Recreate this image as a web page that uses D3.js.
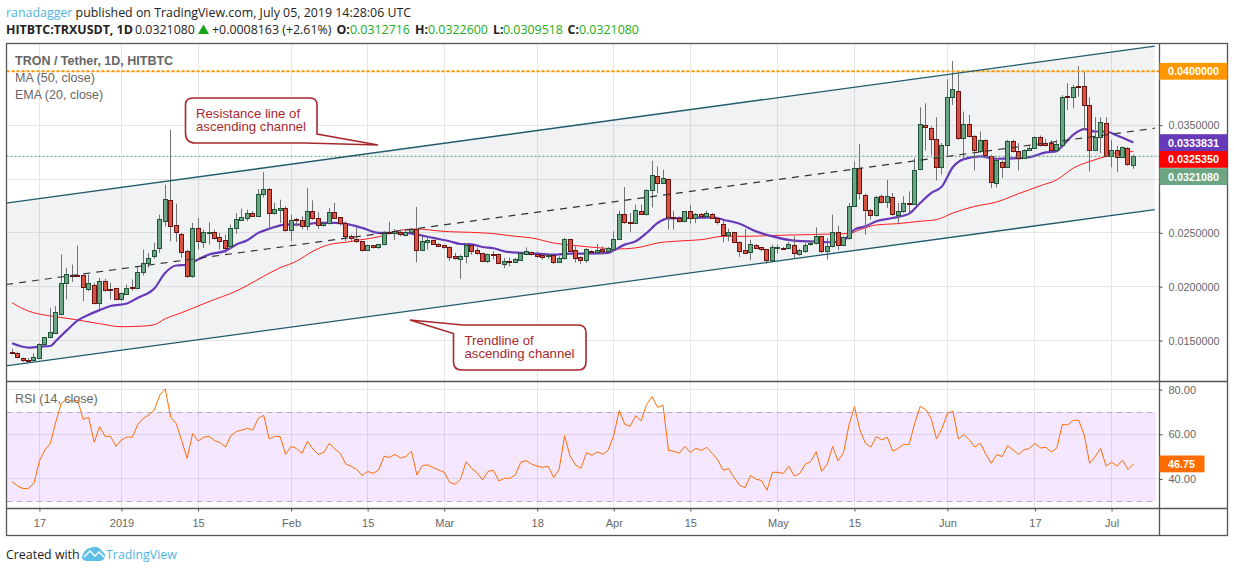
<!DOCTYPE html>
<html>
<head>
<meta charset="utf-8">
<script src="https://cdn.jsdelivr.net/npm/d3@7"></script>
<style>
  html, body { margin: 0; padding: 0; background: #fff; overflow: hidden; }
  svg { display: block; }
  text { font-family: "Liberation Sans", Arial, sans-serif; }
  .head { font-family: "Open Sans", sans-serif; font-size: 12.4px; fill: #222; }
</style>
</head>
<body>
<svg id="chart" width="1234" height="572"></svg>
<script>
const firstDay = Date.UTC(2018, 11, 12);

const opens = [0.01388,0.01376,0.01333,0.01317,0.01311,0.0133,0.01462,0.01527,0.0157,0.01746,
  0.02027,0.02108,0.02108,0.02101,0.01972,0.02015,0.01842,0.02046,0.01975,0.01981,
  0.01879,0.01932,0.0199,0.01981,0.02129,0.02213,0.02283,0.02352,0.02608,0.02796,
  0.02568,0.02481,0.02324,0.02092,0.02537,0.02413,0.02497,0.025,0.02453,0.02426,
  0.0237,0.02543,0.02617,0.02636,0.02676,0.02654,0.02852,0.02907,0.02676,0.0271,
  0.02722,0.02518,0.0262,0.02611,0.02555,0.02703,0.02629,0.02568,0.02583,0.02691,
  0.02639,0.02583,0.02469,0.02441,0.02416,0.02339,0.02379,0.02367,0.02389,0.025,
  0.0249,0.02506,0.02477,0.02499,0.0253,0.02339,0.02413,0.02425,0.02394,0.02379,
  0.0236,0.02277,0.02255,0.02283,0.02382,0.02332,0.02305,0.02237,0.02295,0.02295,
  0.02209,0.02234,0.02227,0.02246,0.02301,0.02314,0.02298,0.02286,0.0228,0.02289,
  0.02227,0.02258,0.02434,0.02332,0.02267,0.02246,0.02329,0.02314,0.02342,0.02326,
  0.02348,0.02443,0.02675,0.02601,0.02589,0.02703,0.02672,0.02894,0.03027,0.02959,
  0.03,0.02647,0.02638,0.02607,0.02694,0.02629,0.02675,0.02653,0.02675,0.02638,
  0.02582,0.02477,0.02499,0.02413,0.02332,0.02314,0.02385,0.0236,0.02342,0.02246,
  0.02351,0.02357,0.02351,0.02385,0.02301,0.0233,0.02388,0.02398,0.02462,0.0233,
  0.0237,0.025,0.02385,0.02447,0.02746,0.03101,0.02851,0.02712,0.02657,0.02842,
  0.02784,0.02833,0.02657,0.027,0.02771,0.02765,0.03086,0.035,0.03472,0.0337,
  0.03111,0.03314,0.03759,0.03815,0.03379,0.03509,0.03395,0.03253,0.03361,0.03206,
  0.02963,0.03157,0.03108,0.03352,0.03256,0.03194,0.03268,0.03287,0.03389,0.0333,
  0.0333,0.03268,0.03314,0.03765,0.03759,0.03861,0.03858,0.03685,0.03268,0.03389,
  0.03518,0.0321,0.03268,0.03203,0.03287,0.0312716];

const highs = [0.01425,0.01398,0.01342,0.01339,0.01382,0.01475,0.01533,0.01805,0.01821,0.02299,
  0.02176,0.02206,0.02382,0.02114,0.02114,0.02037,0.02083,0.02074,0.02037,0.0199,
  0.0195,0.02021,0.02067,0.02185,0.02345,0.02314,0.02407,0.02669,0.02947,0.03457,
  0.02771,0.025,0.02345,0.02592,0.02639,0.02531,0.02598,0.02531,0.025,0.02484,
  0.02577,0.02685,0.02725,0.02716,0.027,0.02907,0.03065,0.02916,0.02778,0.02808,
  0.02747,0.02669,0.02639,0.02654,0.02916,0.02802,0.02691,0.02592,0.02731,0.02778,
  0.02648,0.02608,0.02484,0.02546,0.02423,0.02389,0.02385,0.02398,0.02515,0.02602,
  0.02537,0.02531,0.02524,0.02542,0.0274,0.02462,0.02462,0.02437,0.02406,0.02391,
  0.02376,0.02314,0.02298,0.02406,0.02406,0.02366,0.02314,0.02308,0.02329,0.02308,
  0.02268,0.02271,0.02268,0.02314,0.02366,0.02326,0.02326,0.02298,0.02308,0.02301,
  0.02283,0.02453,0.02447,0.02376,0.02283,0.02357,0.02339,0.02397,0.02376,0.02369,
  0.02514,0.02706,0.02925,0.02684,0.02761,0.02761,0.02906,0.03169,0.03116,0.03086,
  0.03005,0.02706,0.02653,0.02703,0.02761,0.02684,0.02684,0.02706,0.02684,0.02647,
  0.02616,0.02539,0.02505,0.02422,0.02536,0.02437,0.02394,0.02369,0.02351,0.02391,
  0.02391,0.02369,0.02416,0.02468,0.02351,0.02407,0.02419,0.02552,0.02469,0.02453,
  0.02669,0.02567,0.02469,0.02777,0.03163,0.03327,0.02864,0.02722,0.02845,0.02855,
  0.02993,0.0287,0.02777,0.02839,0.02885,0.03194,0.03666,0.03703,0.03487,0.03574,
  0.03333,0.03926,0.04096,0.03981,0.03626,0.03595,0.0341,0.03441,0.0337,0.03225,
  0.03194,0.03172,0.03364,0.03364,0.03333,0.03277,0.03302,0.03395,0.03404,0.03373,
  0.03358,0.03364,0.03778,0.03889,0.03873,0.04049,0.03997,0.03759,0.03574,0.03574,
  0.03574,0.03364,0.03308,0.03302,0.03296,0.03226];

const lows = [0.01373,0.01336,0.01302,0.01308,0.01308,0.01327,0.01456,0.01521,0.0157,0.01734,
  0.01882,0.02043,0.02092,0.01867,0.01959,0.01836,0.0179,0.01956,0.01882,0.01873,
  0.01867,0.01925,0.01963,0.01975,0.02105,0.02176,0.02259,0.02315,0.02561,0.02423,
  0.02416,0.02268,0.02083,0.02083,0.02345,0.02361,0.02392,0.02438,0.02345,0.02314,
  0.02352,0.0249,0.02608,0.02608,0.02648,0.02654,0.0283,0.02531,0.02669,0.02592,
  0.02512,0.02423,0.02561,0.02531,0.02524,0.02623,0.02537,0.02555,0.02577,0.02629,
  0.02568,0.02423,0.02423,0.02407,0.02327,0.02336,0.02355,0.02352,0.02385,0.02484,
  0.02432,0.02469,0.02468,0.02493,0.02227,0.02332,0.02345,0.02388,0.02369,0.02354,
  0.02237,0.02252,0.02073,0.02218,0.02298,0.02298,0.0223,0.02221,0.02252,0.02212,
  0.02172,0.0219,0.02221,0.0224,0.02295,0.02289,0.02268,0.02252,0.02258,0.02209,
  0.02221,0.02252,0.02323,0.02224,0.02209,0.02221,0.02311,0.02308,0.02298,0.0232,
  0.02326,0.02437,0.02585,0.02505,0.02582,0.02666,0.0266,0.02737,0.02869,0.02953,
  0.0253,0.0253,0.02598,0.02598,0.02585,0.02592,0.02647,0.02647,0.02629,0.02576,
  0.02413,0.02422,0.02406,0.02277,0.02305,0.02246,0.02351,0.02329,0.02212,0.02227,
  0.02308,0.02345,0.02345,0.02268,0.02289,0.02314,0.02382,0.02392,0.02314,0.02253,
  0.02364,0.02339,0.02376,0.02438,0.0274,0.02808,0.02484,0.02623,0.02651,0.02777,
  0.02731,0.0266,0.02586,0.02685,0.02685,0.02759,0.0308,0.03265,0.03225,0.02987,
  0.0304,0.0321,0.03688,0.03364,0.03179,0.03389,0.0308,0.0324,0.03203,0.02916,
  0.02922,0.03009,0.03102,0.03247,0.0308,0.03185,0.03262,0.03277,0.03302,0.03302,
  0.03256,0.03256,0.03308,0.03642,0.03657,0.03765,0.03456,0.03071,0.03262,0.0324,
  0.03203,0.03108,0.03064,0.03194,0.03123,0.0309518];

const closes = [0.01379,0.01342,0.01314,0.01314,0.01342,0.01462,0.01527,0.01574,0.01759,0.02027,
  0.02111,0.02101,0.02098,0.0199,0.02027,0.01842,0.02046,0.01963,0.01969,0.01879,
  0.01941,0.01981,0.01981,0.02129,0.02213,0.02259,0.02333,0.0262,0.02808,0.02561,
  0.02506,0.02321,0.02098,0.02537,0.02416,0.025,0.02503,0.0245,0.02423,0.02358,
  0.02537,0.0262,0.02639,0.02679,0.02654,0.02852,0.02907,0.02676,0.02716,0.02722,
  0.02518,0.02617,0.02611,0.02555,0.02703,0.02629,0.02568,0.02583,0.02685,0.02636,
  0.02583,0.02469,0.02444,0.02416,0.02339,0.02379,0.02361,0.02389,0.02497,0.0249,
  0.02509,0.02484,0.02502,0.02527,0.02339,0.02416,0.02425,0.02394,0.02376,0.0236,
  0.02274,0.02258,0.0228,0.02379,0.02329,0.02305,0.02237,0.02295,0.02289,0.02218,
  0.0223,0.02224,0.02249,0.02305,0.02323,0.02295,0.02283,0.02274,0.02289,0.02227,
  0.02258,0.02434,0.02329,0.02264,0.02246,0.02342,0.02317,0.02339,0.02329,0.02351,
  0.02443,0.02675,0.02598,0.02589,0.02712,0.02672,0.02897,0.03036,0.02959,0.03008,
  0.02644,0.02629,0.02607,0.02694,0.02629,0.02675,0.02653,0.02684,0.02638,0.02592,
  0.02477,0.02499,0.02413,0.02329,0.02311,0.02388,0.02357,0.02342,0.02246,0.0236,
  0.0236,0.02351,0.02391,0.02311,0.02332,0.02385,0.02401,0.02462,0.02324,0.0237,
  0.025,0.02385,0.02453,0.02746,0.03101,0.02861,0.02709,0.02657,0.02833,0.02784,
  0.02842,0.02666,0.027,0.02771,0.02765,0.03083,0.03509,0.03481,0.0337,0.03111,
  0.03314,0.03759,0.03827,0.03379,0.03509,0.03395,0.03268,0.03361,0.03219,0.02972,
  0.03169,0.03111,0.03352,0.03256,0.03194,0.03268,0.03287,0.03389,0.03314,0.03314,
  0.03268,0.03324,0.03759,0.03759,0.03852,0.03855,0.03685,0.03268,0.03389,0.03527,
  0.0321,0.03268,0.03203,0.0329,0.03139,0.032108];

// purple line, read every few days
const emaDays = [0,3,5,7,8,10,12,14,16,18,21,23,26,28,30,32,34,36,39,41,43,45,47,50,53,56,59,61,64,67,70,
  72,74,77,80,82,84,86,88,90,93,96,99,102,105,109,110,112,114,116,118,120,124,128,130,133,136,139,143,
  147,150,152,154,156,158,161,164,166,168,170,172,174,177,180,183,186,189,191,192,194,196,198,200,202,205];
const emaValues = [0.01475,0.01435,0.01444,0.0145,0.01496,0.01595,0.01688,0.0174,0.01783,0.01821,0.01845,0.01898,0.01984,0.02129,0.02197,0.02203,0.02253,0.02299,0.02333,0.02392,0.02432,0.025,0.02537,0.02577,0.02577,0.02592,0.02592,0.02583,0.02546,0.025,0.025,
  0.02499,0.02484,0.02453,0.02422,0.02397,0.02394,0.02369,0.02357,0.02329,0.02314,0.02308,0.02298,0.02308,0.02308,0.02314,0.02338,0.02391,0.02422,0.02499,0.02592,0.02635,0.02638,0.02644,0.02622,0.02585,0.02514,0.02468,0.02428,
  0.02419,0.02413,0.02432,0.0253,0.02561,0.02608,0.02638,0.02679,0.02777,0.0287,0.02932,0.03111,0.03185,0.0321,0.03188,0.03191,0.03203,0.03247,0.03259,0.03308,0.0341,0.03463,0.03441,0.03441,0.03404,0.0333831];

// red line
const maDays = [0,3,5,8,12,16,20,24,26,28,31,34,37,40,43,46,49,52,55,58,61,64,67,70,
  74,78,80,84,88,92,95,99,103,107,111,115,118,122,126,130,134,138,143,
  146,150,153,155,158,162,166,169,172,176,180,184,188,191,194,197,200,203,205];
const maValues = [0.01851,0.01774,0.01746,0.01722,0.01691,0.01657,0.01629,0.01635,0.01648,0.01703,0.01759,0.01821,0.01882,0.01938,0.02012,0.02098,0.02176,0.02237,0.0233,0.02392,0.02413,0.02438,0.02463,0.02515,
  0.02536,0.02518,0.02511,0.02505,0.02493,0.02468,0.02453,0.02406,0.02382,0.02363,0.02351,0.02369,0.02406,0.02425,0.02437,0.02468,0.02468,0.02474,0.02481,
  0.02484,0.0249,0.02493,0.0253,0.02574,0.02586,0.02608,0.02623,0.02685,0.02746,0.02787,0.02864,0.02938,0.02993,0.03101,0.03163,0.0321,0.03256,0.032535];

const rsiValues = [38.8,36.9,35.7,35.8,38.1,48.1,53,56,65.7,73.9,
  75.7,74.9,75.2,66.7,67.6,56.4,63.4,59.1,59.1,54.6,
  57.5,58.8,58.8,64.5,67.2,68.7,70.9,77.6,80.4,67.6,
  64.9,57.2,49.3,60.3,57,58.7,59.1,57.2,56.3,54.3,
  59.4,61.3,61.9,62.7,61.9,67.2,68.5,57.9,59.1,59,
  51,54.6,53.7,51.5,56.9,53.4,51,51.9,56,53.4,
  51.5,46.7,45.7,44.2,41.6,43.4,42.5,44,50.1,49.7,
  51,49.4,50.1,52.4,41.8,46,46.3,45.1,44,43,
  38.5,37.6,40,47.8,44.8,42.8,39.6,43.4,43.9,39.1,
  40.3,40.3,41.8,47.5,48.2,46.6,45.7,45.2,45.7,40.7,
  44.2,59.4,50.3,46.3,44.8,51.8,50.6,52.2,51,53,
  59.7,70.7,64.5,63.6,68.4,66,73.4,76.9,72.1,73,
  52.8,52.4,51.6,54.6,51.9,53.7,52.8,54.2,51.5,48.5,
  43.9,44.6,40.6,37.2,36.1,41.6,39.9,39.3,34.9,43,
  43,42.5,45.7,41.3,42.5,46.6,47.8,52.2,43.4,46.6,
  54.6,48.1,51.8,64.2,72.4,61.9,56,54.3,59,57.5,
  58.7,52.5,53.7,55.5,55.5,64.9,72.5,71.2,67.2,57.9,
  62.7,69.4,70.3,57.9,59.9,57.5,54.3,56,51.2,47,
  51,50,54.9,53,51,53.1,53.7,56,53.9,54.2,
  52.1,53.9,64.5,64.2,66.3,66.3,59.7,47,50,53.7,
  45.8,47.5,45.8,48.4,44.3,46.75];

const priceGrid = [0.04, 0.035, 0.03, 0.025, 0.02, 0.015];
// 0.03 and 0.04 labels sit under the value boxes
const priceTicks = [0.035, 0.025, 0.02, 0.015];
const rsiTicks = [80, 60, 40];
const timeTicks = [[2018,11,17,"17"],[2019,0,1,"2019"],[2019,0,15,"15"],[2019,1,1,"Feb"],[2019,1,15,"15"],[2019,2,1,"Mar"],[2019,2,18,"18"],[2019,3,1,"Apr"],[2019,3,15,"15"],[2019,4,1,"May"],[2019,4,15,"15"],[2019,5,1,"Jun"],[2019,5,17,"17"],[2019,6,1,"Jul"]];

// channel drawn on the chart: [day index, price]
const channelTop = [[-1.1, 0.02776], [208.9, 0.04234]];
const channelMid = [[-1.1, 0.02021], [208.9, 0.03472]];
const channelBottom = [[-1.1, 0.01265], [208.9, 0.02716]];

const resistance = 0.04;
const lastClose = closes[closes.length - 1];
const lastEma = emaValues[emaValues.length - 1];
const lastMa = maValues[maValues.length - 1];
const lastRsi = rsiValues[rsiValues.length - 1];

const plotLeft = 6.5, plotRight = 1159.5, plotTop = 43.5, mainBottom = 381.5, rsiBottom = 508.5, frameRight = 1227.5, frameBottom = 535.5;

const dayMs = 86400000;
const dayDate = i => new Date(firstDay + i * dayMs);

const x = d3.scaleUtc()
  .domain([dayDate(0), dayDate(205)])
  .range([12.1, 12.1 + 5.47 * 205]);
const y = d3.scaleLinear().domain([0.04, 0.015]).range([71.3, 340.6]);
const yRsi = d3.scaleLinear().domain([80, 30]).range([389.7, 501.3]);

const svg = d3.select("#chart");
const dayX = i => x(dayDate(i));
const crisp = v => Math.round(v - 0.5) + 0.5;

svg.append("clipPath").attr("id", "mainClip").append("rect")
  .attr("x", plotLeft).attr("y", plotTop).attr("width", plotRight - plotLeft).attr("height", mainBottom - plotTop);

// grid
const grid = svg.append("g").attr("stroke", "#e6e6e6").attr("stroke-width", 1);
const tickDates = timeTicks.map(t => new Date(Date.UTC(t[0], t[1], t[2])));
tickDates.forEach(d => {
  grid.append("line").attr("x1", crisp(x(d))).attr("x2", crisp(x(d))).attr("y1", plotTop).attr("y2", rsiBottom);
});
priceGrid.forEach(p => {
  grid.append("line").attr("x1", plotLeft).attr("x2", plotRight).attr("y1", crisp(y(p))).attr("y2", crisp(y(p)));
});
rsiTicks.forEach(r => {
  grid.append("line").attr("x1", plotLeft).attr("x2", plotRight).attr("y1", crisp(yRsi(r))).attr("y2", crisp(yRsi(r)));
});

// channel fill
const main = svg.append("g").attr("clip-path", "url(#mainClip)");
const chanPoint = d => [dayX(d[0]), y(d[1])];
main.append("path")
  .attr("d", d3.line()([chanPoint(channelTop[0]), chanPoint(channelTop[1]), chanPoint(channelBottom[1]), chanPoint(channelBottom[0])]) + "Z")
  .attr("fill", "rgba(120,130,150,0.105)");

// moving averages
const emaLine = d3.line().x((d, i) => dayX(emaDays[i])).y(d => y(d)).curve(d3.curveMonotoneX);
const maLine = d3.line().x((d, i) => dayX(maDays[i])).y(d => y(d)).curve(d3.curveMonotoneX);
main.append("path").attr("d", maLine(maValues)).attr("fill", "none").attr("stroke", "#ff1a1a").attr("stroke-width", 1);
main.append("path").attr("d", emaLine(emaValues)).attr("fill", "none").attr("stroke", "#673ab7").attr("stroke-width", 2.2);

// candles
const candles = main.append("g");
opens.forEach((o, i) => {
  const c = closes[i];
  const up = c >= o;
  const cx = crisp(dayX(i));
  candles.append("line").attr("x1", cx).attr("x2", cx)
    .attr("y1", y(highs[i])).attr("y2", y(lows[i]))
    .attr("stroke", "#737375").attr("stroke-width", 1);
  const yTop = crisp(y(Math.max(o, c)));
  const yBot = crisp(y(Math.min(o, c)));
  candles.append("rect")
    .attr("x", cx - 2).attr("width", 4)
    .attr("y", yTop).attr("height", Math.max(yBot - yTop, 1))
    .attr("fill", up ? "#6ba583" : "#d75442")
    .attr("stroke", up ? "#225437" : "#6b1313").attr("stroke-width", 1);
});

// horizontal levels
main.append("line").attr("x1", plotLeft).attr("x2", plotRight).attr("y1", y(lastClose)).attr("y2", y(lastClose))
  .attr("stroke", "#4f9a6f").attr("stroke-width", 1).attr("stroke-dasharray", "2 2");
main.append("line").attr("x1", plotLeft).attr("x2", plotRight).attr("y1", y(resistance)).attr("y2", y(resistance))
  .attr("stroke", "#ff9800").attr("stroke-width", 2).attr("stroke-dasharray", "3 2");

// channel lines
[channelTop, channelBottom].forEach(c => {
  main.append("line")
    .attr("x1", dayX(c[0][0])).attr("y1", y(c[0][1]))
    .attr("x2", dayX(c[1][0])).attr("y2", y(c[1][1]))
    .attr("stroke", "#1f5c6b").attr("stroke-width", 1.3);
});
main.append("line")
  .attr("x1", dayX(channelMid[0][0])).attr("y1", y(channelMid[0][1]))
  .attr("x2", dayX(channelMid[1][0])).attr("y2", y(channelMid[1][1]))
  .attr("stroke", "#333").attr("stroke-width", 1.2).attr("stroke-dasharray", "7 6");

// callouts
function callout(path, lines, tx, ty) {
  svg.append("path").attr("d", path).attr("fill", "#fff").attr("stroke", "#a8292d").attr("stroke-width", 1.6);
  lines.forEach((t, i) => {
    svg.append("text").attr("x", tx).attr("y", ty + i * 12.5)
      .attr("font-size", 13.2).attr("fill", "#a8292d").text(t);
  });
}
callout("M193,98 H310 Q317,98 317,105 V134 L378,145 L305,143 H195 Q185.5,143 185.5,133 V105 Q185.5,98 193,98 Z",
  ["Resistance line of", "ascending channel"], 196, 118);
callout("M410,320 L463,325 H578 Q586,325 586,333 V362 Q586,370 578,370 H462 Q453.5,370 453.5,362 V333.5 Z",
  ["Trendline of", "ascending channel"], 464.5, 345);

// rsi pane
svg.append("rect").attr("x", plotLeft)
  .attr("y", yRsi(70)).attr("height", yRsi(30) - yRsi(70))
  .attr("width", 1156 - plotLeft)
  .attr("fill", "rgba(153,21,255,0.1)");
[70, 30].forEach(r => {
  svg.append("line").attr("x1", plotLeft).attr("x2", 1156).attr("y1", crisp(yRsi(r))).attr("y2", crisp(yRsi(r)))
    .attr("stroke", "#b9a9c4").attr("stroke-width", 1).attr("stroke-dasharray", "6 4");
});
const rsiLine = d3.line().x((d, i) => dayX(i)).y(d => yRsi(d));
svg.append("path").attr("d", rsiLine(rsiValues)).attr("fill", "none").attr("stroke", "#ff6d00").attr("stroke-width", 1);

// frame
const frameLines = svg.append("g").attr("stroke", "#555").attr("stroke-width", 1.3).attr("fill", "none");
frameLines.append("rect").attr("x", plotLeft).attr("y", plotTop).attr("width", frameRight - plotLeft).attr("height", frameBottom - plotTop);
frameLines.append("line").attr("x1", plotLeft).attr("x2", frameRight).attr("y1", mainBottom).attr("y2", mainBottom);
frameLines.append("line").attr("x1", plotLeft).attr("x2", frameRight).attr("y1", rsiBottom).attr("y2", rsiBottom);
frameLines.append("line").attr("x1", plotRight).attr("x2", plotRight).attr("y1", plotTop).attr("y2", frameBottom);

// axes
const axisColor = "#666";
const timeAxis = svg.append("g").attr("transform", `translate(0,${rsiBottom})`)
  .call(d3.axisBottom(x).tickValues(tickDates).tickSize(3).tickPadding(8)
    .tickFormat((d, i) => timeTicks[i][3]));
timeAxis.select(".domain").remove();
timeAxis.selectAll("text").attr("font-size", 11).attr("fill", axisColor).attr("font-family", "Liberation Sans");
timeAxis.selectAll("line").attr("stroke", "#555");

const priceAxis = svg.append("g").attr("transform", `translate(${plotRight},0)`)
  .call(d3.axisRight(y).tickValues(priceTicks).tickSize(3).tickPadding(6).tickFormat(d3.format(".7f")));
priceAxis.select(".domain").remove();
priceAxis.selectAll("text").attr("font-size", 10.8).attr("fill", axisColor).attr("font-family", "Liberation Sans");
priceAxis.selectAll("line").attr("stroke", "#555");

const rsiAxis = svg.append("g").attr("transform", `translate(${plotRight},0)`)
  .call(d3.axisRight(yRsi).tickValues(rsiTicks).tickSize(3).tickPadding(6).tickFormat(d3.format(".2f")));
rsiAxis.select(".domain").remove();
rsiAxis.selectAll("text").attr("font-size", 11).attr("fill", axisColor).attr("font-family", "Liberation Sans");
rsiAxis.selectAll("line").attr("stroke", "#555");

// value boxes on the price axis
function valueBox(yMid, w, fill, label) {
  svg.append("rect").attr("x", plotRight).attr("y", yMid - 8.4).attr("width", w).attr("height", 16.8).attr("fill", fill);
  svg.append("text").attr("x", plotRight + 8.5).attr("y", yMid + 3.9)
    .attr("font-size", 10.8).attr("font-weight", "bold").attr("fill", "#fff").text(label);
}
valueBox(y(resistance), 68, "#ff9800", d3.format(".7f")(resistance));
valueBox(142.6, 68, "#673ab7", d3.format(".7f")(lastEma));
valueBox(159.4, 68, "#ff0000", d3.format(".7f")(lastMa));
valueBox(176.6, 68, "#6ba583", d3.format(".7f")(lastClose));
valueBox(yRsi(lastRsi), 45, "#ff6d00", d3.format(".2f")(lastRsi));

// legend texts
svg.append("text").attr("x", 15).attr("y", 65).attr("font-size", 12.5).attr("font-weight", "bold").attr("fill", "#666").text("TRON / Tether, 1D, HITBTC");
svg.append("text").attr("x", 15).attr("y", 82).attr("font-size", 12.5).attr("fill", "#666").text("MA (50, close)");
svg.append("text").attr("x", 15).attr("y", 99).attr("font-size", 12.5).attr("fill", "#666").text("EMA (20, close)");
svg.append("text").attr("x", 15).attr("y", 403).attr("font-size", 12.5).attr("fill", "#666").text("RSI (14, close)");

// header
const head1 = svg.append("text").attr("class", "head").attr("x", 6).attr("y", 17);
head1.append("tspan").style("fill", "#4eb6e8").text("ranadagger");
head1.append("tspan").text(" published on TradingView.com, July 05, 2019 14:28:06 UTC");

function headText(tx, label, color, bold) {
  svg.append("text").attr("class", "head").attr("x", tx).attr("y", 34)
    .attr("font-weight", bold ? "bold" : "normal").style("fill", color).text(label);
}
headText(6, "HITBTC:TRXUSDT, 1D", "#222", true);
headText(135, "0.0321080", "#222", false);
svg.append("path").attr("d", "M198,34 L203.5,24.5 L209,34 Z").attr("fill", "#19a319");
headText(212, "+0.0008163 (+2.61%)", "#222", false);
headText(336.5, "O:", "#222", true);
headText(350, "0.0312716", "#22ab22", false);
headText(415, "H:", "#222", true);
headText(428, "0.0322600", "#22ab22", false);
headText(493, "L:", "#222", true);
headText(503, "0.0309518", "#22ab22", false);
headText(567.5, "C:", "#222", true);
headText(579, "0.0321080", "#22ab22", false);

// footer
svg.append("text").attr("class", "head").attr("x", 6).attr("y", 559).text("Created with");
svg.append("path")
  .attr("d", "M82,558 Q82,553 87,549 L93,547 Q98,546 101,550 L105,554 Q105,561 100,561 L88,561 Q83,561 82,558 Z")
  .attr("fill", "#5cbfe8");
svg.append("path").attr("d", "M84,557 L90,551 L95,556 L99,552 L104,557").attr("fill", "none").attr("stroke", "#fff").attr("stroke-width", 1.5);
svg.append("text").attr("class", "head").attr("x", 106).attr("y", 559).style("fill", "#4eb6e8").text("TradingView");
</script>
</body>
</html>
